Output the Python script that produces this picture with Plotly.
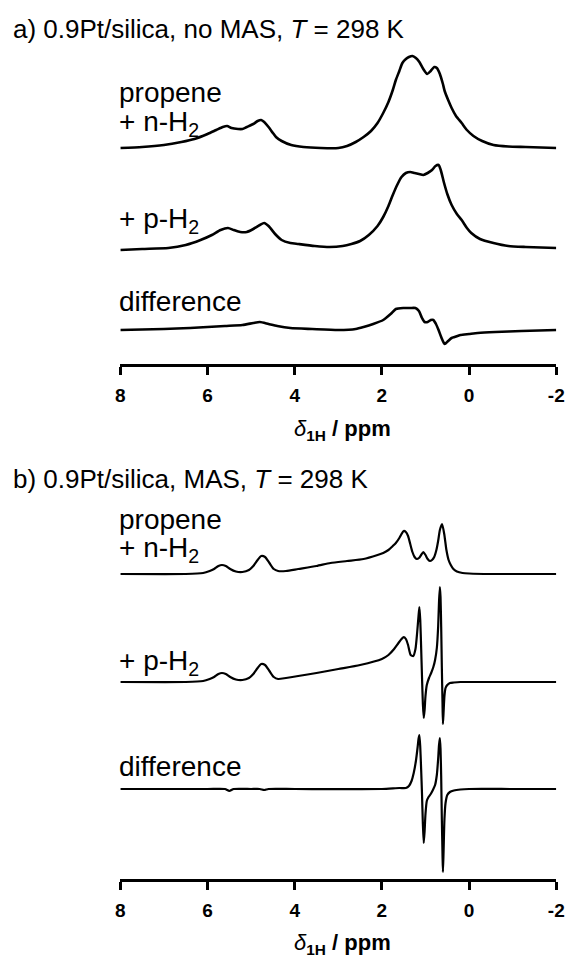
import plotly.graph_objects as go

W, H = 576, 962

# ---------------- data (ppm, intensity in arbitrary units) ----------------
# Panel a: no MAS
a_nH2_ppm = [8.0, 7.5, 7.0, 6.6, 6.3, 6.0, 5.8, 5.65, 5.55, 5.45, 5.3, 5.2, 5.1, 4.95, 4.85, 4.77, 4.7, 4.6, 4.5, 4.43, 4.3, 4.08, 3.8,
             3.4, 3.0, 2.8, 2.6, 2.42, 2.25, 2.1, 1.97, 1.85, 1.75, 1.68, 1.6, 1.53, 1.45, 1.38, 1.3, 1.22, 1.14, 1.05, 0.96,
             0.88, 0.8, 0.74, 0.67, 0.6, 0.56, 0.48, 0.4, 0.3, 0.17, 0.05, -0.1, -0.3, -0.56, -0.9, -1.3, -2.0]
a_nH2_int = [0, 1, 3, 6, 9, 14, 18, 21, 22, 20, 19, 19, 21, 24, 27, 28, 26, 21, 15, 11, 7, 3, 1,
             0, 0, 2, 6, 11, 17, 25, 35, 46, 58, 68, 77, 85, 89, 91, 92, 90, 86, 79, 74,
             77, 81, 80, 74, 64, 57, 48, 40, 32, 25, 18, 12, 7, 3, 1.5, 1, 0]

a_pH2_ppm = [8.0, 7.5, 6.9, 6.5, 6.16, 5.9, 5.7, 5.53, 5.4, 5.25, 5.1, 4.95, 4.8, 4.7, 4.6, 4.45, 4.3, 4.1, 3.92, 3.54,
             3.2, 2.9, 2.7, 2.5, 2.3, 2.1, 1.97, 1.85, 1.75, 1.65, 1.55, 1.45, 1.35, 1.25, 1.15, 1.05, 0.95, 0.85,
             0.77, 0.7, 0.65, 0.58, 0.5, 0.4, 0.28, 0.17, 0.05, -0.05, -0.25, -0.56, -0.9, -1.3, -2.0]
a_pH2_int = [0, 1, 2, 5, 10, 15, 20, 22, 20, 18, 18, 21, 25, 27, 24, 16, 10, 7, 6, 4,
             3, 4, 6, 9, 15, 24, 33, 44, 55, 65, 73, 77, 78, 77, 76, 75, 77, 80,
             84, 85, 80, 68, 56, 45, 36, 30, 22, 17, 11, 7, 4, 3, 2]

a_diff_ppm = [8.0, 7.0, 6.4, 6.0, 5.6, 5.2, 4.95, 4.8, 4.6, 4.4, 4.1, 3.6, 3.0, 2.6, 2.42, 2.2, 1.97, 1.8, 1.68, 1.5,
              1.35, 1.23, 1.15, 1.08, 1.02, 0.95, 0.88, 0.82, 0.76, 0.7, 0.64, 0.56, 0.48, 0.4, 0.33, 0.2, 0.0,
              -0.2, -0.6, -1.2, -2.0]
a_diff_int = [0, 1, 2, 3, 4, 5, 7, 8, 6, 4, 2, 1, 0, 1, 3, 6, 10, 16, 21, 22,
              22, 22, 19, 12, 8, 8, 10, 10, 6, 0, -7, -14, -11, -8, -7, -5, -4,
              -3, -2, -1, 0]

# Panel b: MAS
b_nH2_ppm = [8.0, 6.5, 6.1, 5.95, 5.85, 5.75, 5.67, 5.58, 5.48, 5.35, 5.2, 5.05, 4.95, 4.85, 4.77, 4.68, 4.58, 4.48,
             4.38, 4.2, 3.92, 3.5, 3.18, 2.8, 2.42, 2.1, 1.97, 1.85, 1.75, 1.68, 1.6, 1.55, 1.5, 1.45, 1.4, 1.35, 1.3,
             1.25, 1.2, 1.15, 1.1, 1.05, 1.0, 0.95, 0.9, 0.85, 0.8, 0.75, 0.71, 0.67, 0.62, 0.57, 0.52, 0.47,
             0.42, 0.36, 0.28, 0.15, 0.0, -0.5, -1.2, -2.0]
b_nH2_int = [0, 0, 1, 3, 5, 8, 9, 8, 5, 2.5, 2, 4, 8, 14, 18, 17, 11, 5,
             3, 3, 5, 8, 11, 13, 15, 19, 21, 24, 28, 31, 36, 40, 43, 42, 38, 30, 22,
             17, 15, 16, 19, 22, 19, 15, 13, 14, 17, 24, 33, 44, 50, 40, 24, 14,
             9, 5, 2.5, 1, 0.5, 0, 0, 0]

b_pH2_ppm = [8.0, 6.5, 6.1, 5.95, 5.85, 5.75, 5.67, 5.58, 5.48, 5.35, 5.2, 5.05, 4.95, 4.85, 4.77, 4.68, 4.58, 4.48,
             4.38, 4.2, 3.92, 3.5, 3.0, 2.5, 2.0, 1.85, 1.72, 1.62, 1.55, 1.5, 1.45, 1.4, 1.34, 1.28, 1.23, 1.19,
             1.16, 1.14, 1.12, 1.1, 1.08, 1.06, 1.04, 1.02, 1.0, 0.97, 0.92, 0.87, 0.82, 0.78, 0.74, 0.71, 0.69,
             0.67, 0.655, 0.64, 0.625, 0.61, 0.6, 0.585, 0.565, 0.54, 0.5, 0.44, 0.35, 0.2, 0.0, -1.0, -2.0]
b_pH2_int = [0, 0, 1, 3, 5, 8, 9, 8, 5, 2.5, 2, 4, 8, 14, 18, 17, 11, 5,
             3, 4, 6, 9, 13, 17, 23, 27, 33, 39, 43, 45, 43, 37, 27, 26, 33, 50,
             66, 75, 62, 35, 5, -22, -36, -28, -14, -3, 4, 9, 15, 22, 34, 55, 80,
             95, 85, 55, 15, -20, -42, -30, -14, -6, -3, -1, -0.5, 0, 0, 0, 0]

b_diff_ppm = [8.0, 6.0, 5.6, 5.5, 5.4, 5.0, 4.8, 4.7, 4.6, 4.0, 2.0, 1.6, 1.45, 1.38, 1.32, 1.27, 1.22, 1.18,
              1.16, 1.14, 1.12, 1.1, 1.08, 1.06, 1.04, 1.02, 1.0, 0.97, 0.93, 0.88, 0.83, 0.78, 0.74, 0.71, 0.69,
              0.67, 0.655, 0.64, 0.625, 0.61, 0.6, 0.585, 0.565, 0.54, 0.5, 0.44, 0.35, 0.2, 0.0, -1.0, -2.0]
b_diff_int = [0, 0, 0, -2, 0, 0, 0, -1, 0, 0, 0, 1, 1, 3, 8, 16, 28, 42,
              50, 54, 42, 20, -5, -35, -54, -42, -25, -12, -8, -5, -1, 4, 14, 30, 44,
              51, 40, 12, -30, -65, -83, -62, -30, -14, -6, -3, -1.5, -0.5, 0, 0, 0]

tickvals = [8, 6, 4, 2, 0, -2]

# ---------------- layout constants ----------------
X_L, X_R = 118, 564            # pixel positions of 8 ppm and -2 ppm
A_AXIS, A_TOP = 364, 40        # panel a axis line / top (px)
B_AXIS, B_TOP = 879, 505       # panel b axis line / top (px)
A_OFFS = [216, 114, 34]        # baselines above axis (px units)
B_OFFS = [305, 197, 90]

FONT = "Liberation Sans, Arial, Helvetica, sans-serif"

fig = go.Figure()

def add(xs, ys, off, xa, ya, lw):
    fig.add_trace(go.Scatter(x=xs, y=[v + off for v in ys], mode="lines",
                             line=dict(color="black", width=lw, shape="spline", smoothing=0.6),
                             xaxis=xa, yaxis=ya, showlegend=False, hoverinfo="skip"))

add(a_nH2_ppm, a_nH2_int, A_OFFS[0], "x", "y", 2.6)
add(a_pH2_ppm, a_pH2_int, A_OFFS[1], "x", "y", 2.6)
add(a_diff_ppm, a_diff_int, A_OFFS[2], "x", "y", 2.6)
add(b_nH2_ppm, b_nH2_int, B_OFFS[0], "x2", "y2", 2.2)
add(b_pH2_ppm, b_pH2_int, B_OFFS[1], "x2", "y2", 2.2)
add(b_diff_ppm, b_diff_int, B_OFFS[2], "x2", "y2", 2.2)

xdom = [X_L / W, X_R / W]
xax = dict(range=[8, -2], domain=xdom, showgrid=False, zeroline=False,
           showline=True, linecolor="black", linewidth=3,
           ticks="outside", ticklen=8, tickwidth=3, tickcolor="black",
           tickvals=tickvals, ticktext=[f"<b>{v}</b>" for v in tickvals],
           tickfont=dict(family=FONT, size=19, color="black"), ticklabelstandoff=4,
           fixedrange=True)

fig.update_layout(
    width=W, height=H, margin=dict(l=0, r=0, t=0, b=0),
    paper_bgcolor="white", plot_bgcolor="white",
    xaxis=dict(xax, anchor="y"),
    xaxis2=dict(xax, anchor="y2"),
    yaxis=dict(domain=[1 - A_AXIS / H, 1 - A_TOP / H], range=[0, A_AXIS - A_TOP], visible=False, fixedrange=True),
    yaxis2=dict(domain=[1 - B_AXIS / H, 1 - B_TOP / H], range=[0, B_AXIS - B_TOP], visible=False, fixedrange=True),
)

def text(s, px, py, size, anchor="left"):
    fig.add_annotation(text=s, x=px / W, y=1 - py / H, xref="paper", yref="paper",
                       xanchor=anchor, yanchor="middle", showarrow=False,
                       font=dict(family=FONT, size=size, color="black"))

text("a) 0.9Pt/silica, no MAS, <i>T</i> = 298 K", 6, 29, 26)
text("b) 0.9Pt/silica, MAS, <i>T</i> = 298 K", 6, 479, 26)

text("propene", 115, 93, 28)
text("+ n-H<sub>2</sub>", 115, 123, 28)
text("+ p-H<sub>2</sub>", 115, 221, 28)
text("difference", 115, 301, 28)

text("propene", 115, 519, 28)
text("+ n-H<sub>2</sub>", 115, 549, 28)
text("+ p-H<sub>2</sub>", 115, 662, 28)
text("difference", 115, 766, 28)

title = "<i>δ</i><sub><b>1H</b></sub><b> / ppm</b>"
text(title, 345, 430, 22, anchor="center")
text(title, 345, 944, 22, anchor="center")

fig.write_html("out.html", config={"displayModeBar": False, "staticPlot": True},
               post_script="document.body.style.margin='0';document.body.style.overflow='hidden';")
